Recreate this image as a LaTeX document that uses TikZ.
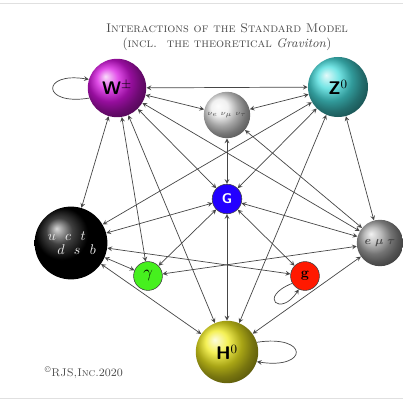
\documentclass[tikz,border=0pt]{standalone}
\usepackage{amsmath,amssymb}
\usepackage{tikz}
\usetikzlibrary{arrows}

\definecolor{wcol}{RGB}{215,20,225}
\definecolor{zcol}{RGB}{70,220,220}
\definecolor{hcol}{RGB}{240,235,30}
\definecolor{gravcol}{RGB}{35,0,255}
\definecolor{phocol}{RGB}{70,240,30}
\definecolor{glucol}{RGB}{255,25,0}
\definecolor{linkcol}{RGB}{70,70,70}
\definecolor{inkcol}{RGB}{75,75,75}

\tikzset{
  ball/.style={circle,inner sep=0pt,shading=ball,font=\sffamily\bfseries\fontsize{13}{15}\selectfont},
  flat/.style={circle,inner sep=0pt,draw=black!75,line width=0.4pt},
  link/.style={<->,>=stealth,draw=linkcol,line width=0.5pt},
  loopy/.style={->,>=stealth,draw=linkcol,line width=0.5pt},
  title/.style={text=inkcol,font=\small}
}

\begin{document}
\begin{tikzpicture}[x=0.025cm,y=-0.025cm]
  % page frame, pixel units from the top left corner
  \useasboundingbox (0,0) rectangle (403,400);
  \draw[black!12] (0,3) -- (403,3);
  \draw[black!12] (0,398) -- (403,398);
  \node[title] (head) at (227,28) {\textsc{Interactions of the Standard Model}};
  \node[title] (sub) at (227,44) {(\textsc{incl.\ \ the theoretical} \textit{Graviton})};
  % bosons and fermions
  \node[ball,ball color=wcol,minimum size=1.46cm] (W) at (117,88) {W$^{\pm}$};
  \node[ball,ball color=zcol,minimum size=1.5cm] (Z) at (338,87) {Z$^{0}$};
  \node[ball,ball color=white!85!gray,minimum size=1.16cm,font=\tiny,text=inkcol] (nu) at (227,115) {$\nu_e\;\nu_\mu\;\nu_\tau$};
  \node[flat,fill=gravcol,minimum size=0.74cm,text=white,font=\sffamily\bfseries] (grav) at (227,199) {G};
  \node[ball,ball color=black,minimum size=1.82cm,font=\normalsize,text=white!85!gray,align=center] (quark) at (71,243) {$u\ \ c\ \ t$\kern6pt\\[-2pt]\kern8pt$d\ \ s\ \ b$};
  \node[ball,ball color=gray!70,minimum size=1.16cm,font=\footnotesize\boldmath,text=black!70] (lepton) at (380,243) {$e\;\mu\;\tau$};
  \node[flat,fill=phocol,minimum size=0.72cm,font=\large] (photon) at (148,276) {$\gamma$};
  \node[flat,fill=glucol,minimum size=0.72cm,font=\bfseries] (gluon) at (305,276) {g};
  \node[ball,ball color=hcol,minimum size=1.56cm] (higgs) at (227,352) {H$^{0}$};
  % couplings
  \foreach \a/\b in {W/Z,W/nu,W/grav,W/lepton,W/quark,W/photon,W/higgs,
                     Z/nu,Z/quark,Z/grav,Z/higgs,Z/lepton,
                     nu/grav,nu/lepton,
                     quark/grav,quark/photon,quark/gluon,quark/higgs,
                     lepton/grav,lepton/photon,lepton/higgs,
                     grav/photon,grav/gluon,grav/higgs}
    \draw[link] (\a) -- (\b);
  % self couplings
  \draw[loopy] (W.200) .. controls +(-48,8) and +(-48,-8) .. (W.163);
  \draw[loopy] (higgs.18) .. controls +(52,-8) and +(52,8) .. (higgs.-18);
  \draw[loopy] (gluon.210) .. controls +(-35,14) and +(-18,28) .. (gluon.245);
  \node[text=inkcol,font=\footnotesize,anchor=west] (copy) at (40,373) {\textsuperscript{\textcopyright}\textsc{RJS,Inc.}2020};
\end{tikzpicture}
\end{document}
